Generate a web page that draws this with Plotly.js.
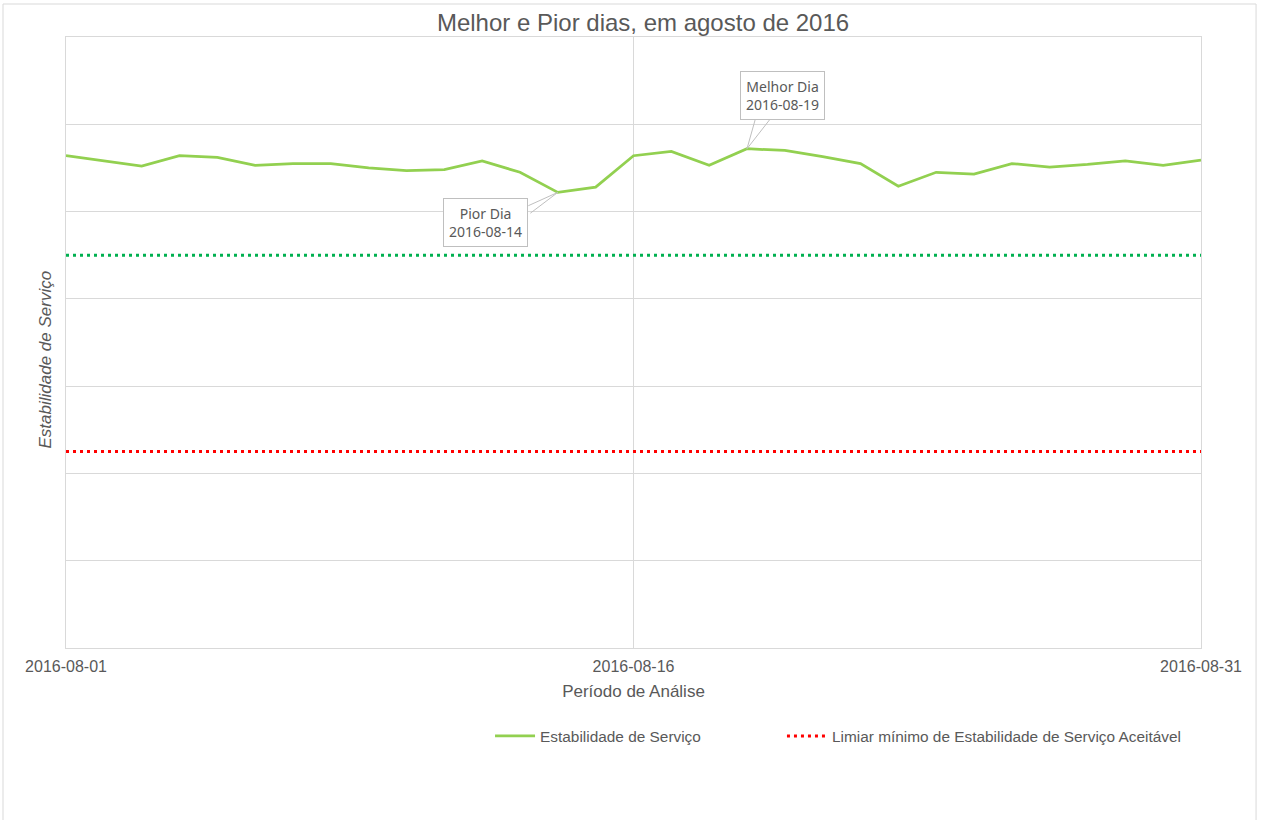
<!DOCTYPE html>
<html>
<head>
<meta charset="utf-8">
<script src="https://cdn.plot.ly/plotly-3.0.1.min.js"></script>
<style>html,body{margin:0;padding:0;background:#fff;}#chart{width:1261px;height:820px;}</style>
</head>
<body>
<div id="chart"></div>
<script>
// ---- data ----
const dates = ['2016-08-01','2016-08-02','2016-08-03','2016-08-04','2016-08-05','2016-08-06','2016-08-07','2016-08-08','2016-08-09','2016-08-10','2016-08-11','2016-08-12','2016-08-13','2016-08-14','2016-08-15','2016-08-16','2016-08-17','2016-08-18','2016-08-19','2016-08-20','2016-08-21','2016-08-22','2016-08-23','2016-08-24','2016-08-25','2016-08-26','2016-08-27','2016-08-28','2016-08-29','2016-08-30','2016-08-31'];
const stability = [0.864,0.858,0.852,0.864,0.862,0.853,0.855,0.855,0.850,0.847,0.848,0.858,0.845,0.822,0.828,0.864,0.869,0.853,0.872,0.870,0.863,0.855,0.829,0.845,0.843,0.855,0.851,0.854,0.858,0.853,0.859];
const targetLevel = 0.75;     // green dotted reference
const minAcceptable = 0.525;  // red dotted threshold
const tickDates = ['2016-08-01','2016-08-16','2016-08-31'];
const worstDay = '2016-08-14';
const bestDay = '2016-08-19';

const grey = '#595959';
const font = 'Liberation Sans, Arial, sans-serif';
const span = [dates[0], dates[dates.length-1]];

const traces = [
  {x: dates, y: stability, type:'scatter', mode:'lines', name:'Estabilidade de Serviço',
   line:{color:'#92d050', width:2.75}, hoverinfo:'x+y', legend:'legend'},
  {x: span, y: [targetLevel, targetLevel], type:'scatter', mode:'lines', showlegend:false,
   line:{color:'#00b050', width:3, dash:'3px,4px'}, hoverinfo:'skip'},
  {x: span, y: [minAcceptable, minAcceptable], type:'scatter', mode:'lines',
   name:'Limiar mínimo de Estabilidade de Serviço Aceitável', legend:'legend2',
   line:{color:'#ff0000', width:3, dash:'3px,4px'}, hoverinfo:'skip'}
];

const worstVal = stability[dates.indexOf(worstDay)];
const bestVal = stability[dates.indexOf(bestDay)];
const boxStyle = {showarrow:true, arrowcolor:'rgba(0,0,0,0)', arrowwidth:0.1, arrowhead:0,
  bordercolor:'#bfbfbf', borderwidth:1, borderpad:5, bgcolor:'#ffffff',
  font:{family:'Noto Sans, sans-serif', size:14, color:grey}, align:'center'};
const wedge = {text:'', showarrow:true, arrowhead:0, arrowcolor:'#bfbfbf', arrowwidth:1};
const legendBase = {orientation:'h', xanchor:'left', y:-0.117, yanchor:'top', itemwidth:40,
  font:{size:15.4, color:grey}, bgcolor:'rgba(0,0,0,0)'};

const layout = {
  width:1261, height:820,
  margin:{l:66, r:60, t:37, b:172},
  paper_bgcolor:'#ffffff', plot_bgcolor:'#ffffff',
  font:{family:font, color:grey},
  title:{text:'Melhor e Pior dias, em agosto de 2016', font:{family:font, size:24, color:grey},
         xref:'paper', x:0.5084, xanchor:'center', y:0.973, yanchor:'middle'},
  xaxis:{type:'date', range:span, tickvals:tickDates, tickformat:'%Y-%m-%d',
         showgrid:true, gridcolor:'#d9d9d9', gridwidth:1,
         showline:true, linecolor:'#d9d9d9', linewidth:1, mirror:true,
         ticks:'', tickfont:{size:16, color:grey}, zeroline:false, ticklabelstandoff:4,
         title:{text:'Período de Análise', font:{size:17, color:grey}, standoff:10}},
  yaxis:{range:[0.3,1.0], dtick:0.1, showticklabels:false, ticks:'',
         showgrid:true, gridcolor:'#d9d9d9', gridwidth:1,
         showline:true, linecolor:'#d9d9d9', linewidth:1, mirror:true, zeroline:false},
  legend:Object.assign({}, legendBase, {x:0.3736}),
  legend2:Object.assign({}, legendBase, {x:0.6308}),
  showlegend:true,
  annotations:[
    {text:'<i>Estabilidade de Serviço</i>', xref:'paper', yref:'paper', x:-0.0172, y:0.473,
     xanchor:'center', yanchor:'middle', textangle:-90, showarrow:false,
     font:{family:font, size:17, color:grey}},
    Object.assign({}, wedge, {x:worstDay, y:worstVal, ax:-31, ay:14}),
    Object.assign({}, wedge, {x:worstDay, y:worstVal, ax:-29, ay:22}),
    Object.assign({}, wedge, {x:bestDay, y:bestVal, ax:9, ay:-32}),
    Object.assign({}, wedge, {x:bestDay, y:bestVal, ax:25, ay:-32}),
    Object.assign({}, boxStyle, {x:worstDay, y:worstVal, ax:-72, ay:30, text:'Pior Dia<br>2016-08-14'}),
    Object.assign({}, boxStyle, {x:bestDay, y:bestVal, ax:35, ay:-53, text:'Melhor Dia<br>2016-08-19'})
  ],
  shapes:[
    {type:'rect', xref:'paper', yref:'paper', x0:-0.0555, x1:1.0485, y0:-0.32, y1:1.054,
     line:{color:'#d9d9d9', width:1}, fillcolor:'rgba(0,0,0,0)', layer:'below'}
  ]
};

Plotly.newPlot('chart', traces, layout, {displayModeBar:false, staticPlot:true});
</script>
</body>
</html>
